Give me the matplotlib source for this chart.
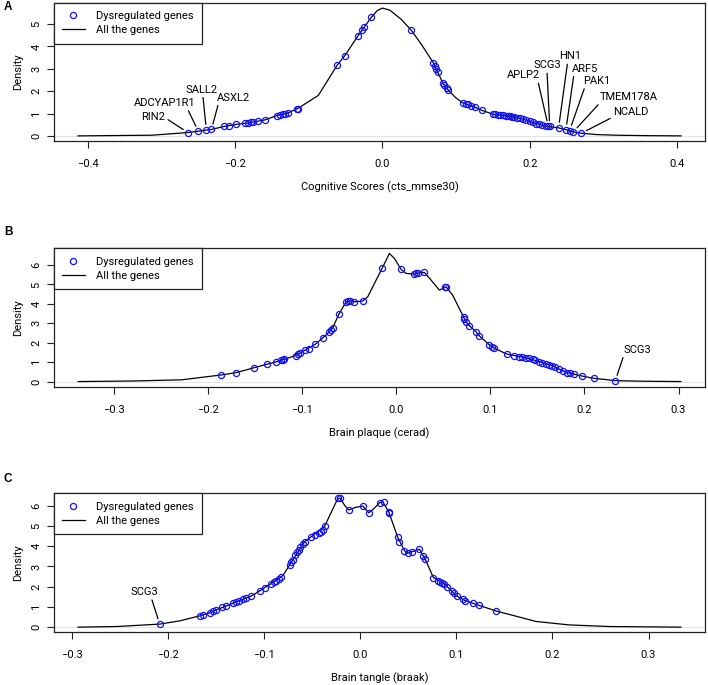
import matplotlib
matplotlib.use("Agg")
import matplotlib.pyplot as plt
from matplotlib.lines import Line2D

plt.rcParams['font.family'] = ['Roboto', 'DejaVu Sans']

# ---- Panel A: cognitive scores ----
a_curve_x = [-0.413, -0.313, -0.264, -0.250, -0.232, -0.215, -0.199, -0.182, -0.160, -0.143,
             -0.128, -0.115, -0.087, -0.061, -0.051, -0.033, -0.025, -0.015, -0.007, 0.0,
             0.010, 0.025, 0.039, 0.053, 0.069, 0.075, 0.082, 0.089, 0.099, 0.109,
             0.125, 0.135, 0.150, 0.164, 0.182, 0.191, 0.200, 0.209, 0.222, 0.239,
             0.249, 0.259, 0.270, 0.290, 0.317, 0.360, 0.405]
a_curve_y = [0.0, 0.03, 0.15, 0.21, 0.29, 0.42, 0.51, 0.58, 0.71, 0.91,
             1.03, 1.22, 1.81, 3.18, 3.59, 4.48, 4.85, 5.30, 5.60, 5.71,
             5.62, 5.22, 4.73, 4.08, 3.27, 2.85, 2.36, 2.06, 1.72, 1.47,
             1.29, 1.14, 0.97, 0.92, 0.82, 0.74, 0.65, 0.55, 0.43, 0.36,
             0.28, 0.18, 0.12, 0.06, 0.03, 0.01, 0.0]
a_genes_x = [-0.264, -0.250, -0.239, -0.232, -0.215, -0.208, -0.199, -0.187, -0.182, -0.178,
             -0.175, -0.169, -0.160, -0.143, -0.139, -0.135, -0.132, -0.128, -0.116, -0.115,
             -0.061, -0.051, -0.033, -0.028, -0.025, -0.015, 0.039, 0.069, 0.071, 0.073,
             0.075, 0.082, 0.084, 0.087, 0.089, 0.109, 0.113, 0.116, 0.120, 0.125,
             0.135, 0.150, 0.153, 0.157, 0.160, 0.164, 0.167, 0.170, 0.173, 0.176,
             0.179, 0.182, 0.186, 0.191, 0.195, 0.200, 0.204, 0.209, 0.212, 0.216,
             0.222, 0.225, 0.227, 0.239, 0.249, 0.254, 0.259, 0.270]
a_genes_y = [0.15, 0.21, 0.27, 0.29, 0.42, 0.46, 0.51, 0.56, 0.58, 0.61,
             0.63, 0.66, 0.71, 0.91, 0.94, 0.98, 1.00, 1.03, 1.21, 1.22,
             3.18, 3.59, 4.48, 4.73, 4.85, 5.30, 4.73, 3.27, 3.13, 2.99,
             2.85, 2.36, 2.26, 2.15, 2.06, 1.47, 1.43, 1.41, 1.35, 1.29,
             1.14, 0.97, 0.96, 0.95, 0.93, 0.92, 0.90, 0.88, 0.87, 0.85,
             0.83, 0.82, 0.78, 0.74, 0.70, 0.65, 0.60, 0.55, 0.52, 0.48,
             0.43, 0.43, 0.43, 0.36, 0.28, 0.24, 0.18, 0.12]
a_labels = ['RIN2', 'ADCYAP1R1', 'SALL2', 'ASXL2', 'APLP2', 'SCG3', 'HN1', 'ARF5',
            'PAK1', 'TMEM178A', 'NCALD']
a_label_gene_x = [-0.264, -0.250, -0.239, -0.232, 0.225, 0.227, 0.239, 0.249, 0.254, 0.259, 0.270]
a_label_gene_y = [0.15, 0.21, 0.27, 0.29, 0.43, 0.43, 0.36, 0.28, 0.24, 0.18, 0.12]

# ---- Panel B: brain plaque ----
b_curve_x = [-0.338, -0.280, -0.228, -0.186, -0.170, -0.1506, -0.1375, -0.128, -0.1187, -0.107,
             -0.1027, -0.0964, -0.0861, -0.078, -0.0709, -0.0674, -0.061, -0.0532, -0.049, -0.0444,
             -0.0356, -0.0302, -0.0213, -0.015, -0.0072, -0.0019, 0.0052, 0.0105, 0.0186, 0.0228,
             0.030, 0.037, 0.0459, 0.053, 0.060, 0.0717, 0.0742, 0.0777, 0.0848, 0.0884,
             0.099, 0.1043, 0.1173, 0.1255, 0.138, 0.152, 0.166, 0.1733, 0.182, 0.189,
             0.197, 0.2097, 0.2328, 0.260, 0.3025]
b_curve_y = [0.0, 0.03, 0.09, 0.34, 0.46, 0.72, 0.89, 1.01, 1.15, 1.34,
             1.46, 1.63, 1.92, 2.25, 2.57, 2.78, 3.46, 4.11, 4.15, 4.11,
             4.15, 4.37, 5.23, 5.83, 6.60, 6.34, 5.78, 5.57, 5.54, 5.59,
             5.62, 5.23, 4.71, 4.88, 4.45, 3.31, 3.08, 2.88, 2.57, 2.35,
             1.89, 1.72, 1.42, 1.34, 1.23, 1.03, 0.81, 0.64, 0.46, 0.38,
             0.29, 0.17, 0.05, 0.02, 0.0]
b_genes_x = [-0.186, -0.170, -0.1506, -0.1375, -0.128, -0.1222, -0.1205, -0.1187, -0.107, -0.1045,
             -0.1027, -0.0964, -0.0929, -0.0861, -0.078, -0.0709, -0.0692, -0.0674, -0.061, -0.0532,
             -0.0511, -0.049, -0.0444, -0.0356, -0.015, 0.0052, 0.0186, 0.0207, 0.0228, 0.030,
             0.052, 0.053, 0.0717, 0.0724, 0.0742, 0.0777, 0.0848, 0.0884, 0.099, 0.1018,
             0.1043, 0.1173, 0.1255, 0.1308, 0.134, 0.138, 0.141, 0.145, 0.148, 0.152,
             0.155, 0.159, 0.162, 0.166, 0.169, 0.1733, 0.177, 0.182, 0.185, 0.189,
             0.197, 0.2097, 0.2328]
b_genes_y = [0.34, 0.46, 0.72, 0.89, 1.01, 1.12, 1.13, 1.15, 1.34, 1.41,
             1.46, 1.63, 1.70, 1.92, 2.25, 2.57, 2.67, 2.78, 3.46, 4.11,
             4.15, 4.15, 4.11, 4.15, 5.83, 5.78, 5.54, 5.57, 5.59, 5.62,
             4.85, 4.88, 3.31, 3.21, 3.08, 2.88, 2.57, 2.35, 1.89, 1.80,
             1.72, 1.42, 1.34, 1.29, 1.27, 1.23, 1.20, 1.15, 1.10, 1.03,
             0.98, 0.91, 0.87, 0.81, 0.74, 0.64, 0.57, 0.46, 0.42, 0.38,
             0.29, 0.17, 0.05]
b_labels = ['SCG3']
b_label_gene_x = [0.2328]
b_label_gene_y = [0.05]

# ---- Panel C: brain tangle ----
c_curve_x = [-0.2937, -0.254, -0.2088, -0.188, -0.167, -0.156, -0.150, -0.1394, -0.1326, -0.1134,
             -0.104, -0.0996, -0.0823, -0.079, -0.0736, -0.058, -0.051, -0.037, -0.0234, -0.0209,
             -0.016, -0.012, -0.005, 0.0026, 0.0088, 0.014, 0.020, 0.0233, 0.0296, 0.039,
             0.046, 0.0494, 0.054, 0.0616, 0.0675, 0.0761, 0.0876, 0.1003, 0.1094, 0.124,
             0.1413, 0.183, 0.2175, 0.260, 0.3337]
c_curve_y = [0.0, 0.03, 0.15, 0.31, 0.56, 0.72, 0.85, 1.05, 1.18, 1.54,
             1.81, 1.95, 2.47, 2.66, 3.07, 4.22, 4.47, 5.0, 6.36, 6.36,
             6.0, 5.79, 5.92, 5.98, 5.65, 5.85, 6.15, 6.2, 5.70, 4.44,
             3.78, 3.65, 3.73, 3.85, 3.37, 2.45, 2.14, 1.54, 1.31, 1.07,
             0.80, 0.28, 0.11, 0.03, 0.0]
c_genes_x = [-0.2088, -0.167, -0.1638, -0.156, -0.153, -0.150, -0.1436, -0.1394, -0.1326, -0.129,
             -0.126, -0.122, -0.119, -0.1134, -0.104, -0.0996, -0.0927, -0.090, -0.0875, -0.0851,
             -0.0823, -0.0736, -0.072, -0.0705, -0.068, -0.066, -0.0643, -0.0628, -0.060, -0.058,
             -0.051, -0.047, -0.043, -0.041, -0.039, -0.037, -0.0234, -0.0209, -0.012, 0.0026,
             0.0088, 0.0207, 0.025, 0.0296, 0.0304, 0.039, 0.0408, 0.046, 0.0494, 0.054,
             0.0616, 0.0657, 0.0675, 0.0761, 0.0806, 0.083, 0.0855, 0.0876, 0.0904, 0.0955,
             0.098, 0.1003, 0.1073, 0.1094, 0.1177, 0.124, 0.1413]
c_genes_y = [0.15, 0.56, 0.61, 0.72, 0.78, 0.85, 0.99, 1.05, 1.18, 1.25,
             1.31, 1.38, 1.44, 1.54, 1.81, 1.95, 2.14, 2.22, 2.30, 2.38,
             2.47, 3.07, 3.20, 3.33, 3.55, 3.70, 3.83, 3.95, 4.10, 4.22,
             4.47, 4.55, 4.63, 4.70, 4.80, 5.00, 6.36, 6.36, 5.79, 5.98,
             5.65, 6.15, 6.18, 5.70, 5.65, 4.44, 4.22, 3.78, 3.65, 3.73,
             3.85, 3.53, 3.37, 2.45, 2.30, 2.25, 2.20, 2.14, 2.00, 1.81,
             1.68, 1.54, 1.38, 1.31, 1.18, 1.07, 0.80]
c_labels = ['SCG3']
c_label_gene_x = [-0.2088]
c_label_gene_y = [0.15]

# label text placement (data coords) and where the leader leaves the text box
a_text_pos = [(-0.311, 0.85), (-0.296, 1.47), (-0.246, 2.06), (-0.202, 1.71),
              (0.191, 2.70), (0.224, 3.15), (0.2553, 3.55), (0.2746, 3.0),
              (0.291, 2.45), (0.334, 1.74), (0.337, 1.07)]
a_relpos = [(1.0, 0.4), (0.87, 0.0), (0.55, 0.0), (0.05, 0.0),
            (0.94, 0.0), (0.48, 0.0), (0.37, 0.0), (0.09, 0.0),
            (0.07, 0.0), (0.02, 0.0), (0.0, 0.0)]
b_text_pos = [(0.2567, 1.63)]
b_relpos = [(0.0, 0.0)]
c_text_pos = [(-0.2244, 1.73)]
c_relpos = [(0.73, 0.0)]

fig = plt.figure(figsize=(7.08, 6.85), dpi=100)
W, H = 708.0, 685.0
FS = 8


def panel(rect_px, letter, letter_y, curve_x, curve_y, gx, gy, labels, lx, ly,
          text_pos, relpos, xticks, yticks, xlabel):
    left, top, right, bottom = rect_px
    ax = fig.add_axes([left / W, 1 - bottom / H, (right - left) / W, (bottom - top) / H])
    ax.axhline(0, color='#e4e4e4', lw=0.8, zorder=0)
    ax.plot(curve_x, curve_y, color='black', lw=0.9, zorder=2)
    ax.plot(gx, gy, 'o', mfc='none', mec='#1010ff', ms=4.4, mew=0.9, zorder=3)
    ax.margins(x=0.04, y=0.04)
    for name, x, y, tp, rp in zip(labels, lx, ly, text_pos, relpos):
        ax.annotate(name, xy=(x, y), xytext=tp, ha='center', va='center',
                    fontsize=FS,
                    arrowprops=dict(arrowstyle='-', color='black', lw=0.9,
                                    relpos=rp, shrinkA=0, shrinkB=4))
    ax.set_xticks(xticks)
    ax.set_yticks(yticks)
    for s in ax.spines.values():
        s.set_linewidth(0.9)
        s.set_color('#222222')
    ax.tick_params(axis='both', length=5, width=0.8, labelsize=FS, color='#222222')
    ax.tick_params(axis='x', pad=8)
    ax.tick_params(axis='y', pad=4)
    for t in ax.get_yticklabels():
        t.set_rotation(90)
        t.set_va('center')
    ax.set_xlabel(xlabel, fontsize=FS, labelpad=9)
    ax.set_ylabel('Density', fontsize=FS, labelpad=6)
    handles = [Line2D([], [], marker='o', ls='none', mfc='none', mec='#1010ff', ms=4.4, mew=0.9),
               Line2D([], [], color='black', lw=0.9)]
    leg = ax.legend(handles, ['Dysregulated genes', 'All the genes'], loc='upper left',
                    fontsize=FS, borderaxespad=0, fancybox=False, framealpha=1,
                    edgecolor='#222222', handlelength=2.0, handletextpad=1.0,
                    borderpad=0.75, labelspacing=0.35)
    leg.get_frame().set_linewidth(0.9)
    fig.text(4 / W, 1 - letter_y / H, letter, fontsize=8.5, fontweight='bold',
             va='center', ha='left', family='Liberation Sans')
    return ax


panel((54, 3, 705, 141), 'A', 7, a_curve_x, a_curve_y, a_genes_x, a_genes_y,
      a_labels, a_label_gene_x, a_label_gene_y, a_text_pos, a_relpos,
      [-0.4, -0.2, 0.0, 0.2, 0.4], range(0, 6), 'Cognitive Scores (cts_mmse30)')
panel((54, 248.3, 705, 386.7), 'B', 232, b_curve_x, b_curve_y, b_genes_x, b_genes_y,
      b_labels, b_label_gene_x, b_label_gene_y, b_text_pos, b_relpos,
      [-0.3, -0.2, -0.1, 0.0, 0.1, 0.2, 0.3], range(0, 7), 'Brain plaque (cerad)')
panel((54, 493.3, 705, 632.3), 'C', 479, c_curve_x, c_curve_y, c_genes_x, c_genes_y,
      c_labels, c_label_gene_x, c_label_gene_y, c_text_pos, c_relpos,
      [-0.3, -0.2, -0.1, 0.0, 0.1, 0.2, 0.3], range(0, 7), 'Brain tangle (braak)')

fig.savefig('out.png', dpi=100)
